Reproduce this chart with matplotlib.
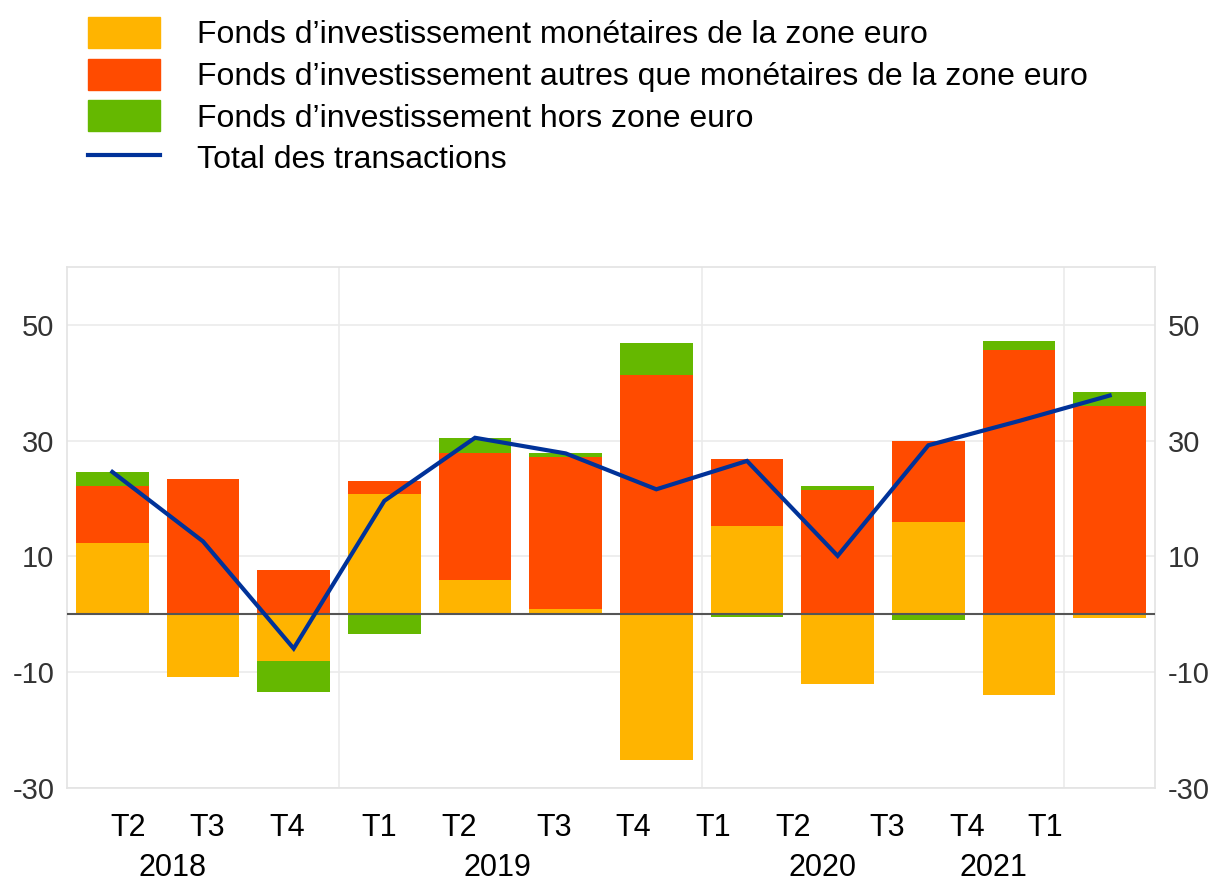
import numpy as np
import matplotlib
matplotlib.use("Agg")
import matplotlib.pyplot as plt
from matplotlib.patches import Patch
from matplotlib.lines import Line2D

plt.rcParams['font.family'] = ['Liberation Sans', 'DejaVu Sans']

# quarterly values, Q2 2018 .. Q1 2021
quarters = ['T2', 'T3', 'T4', 'T1', 'T2', 'T3', 'T4', 'T1', 'T2', 'T3', 'T4', 'T1']
years = ['2018', '2019', '2020', '2021']
monetaires = [12.4, -10.8, -8.0, 20.8, 6.0, 0.9, -25.2, 15.3, -12.1, 16.0, -14.0, -0.6]
autres = [9.7, 23.4, 7.7, 2.2, 21.9, 26.3, 41.4, 11.6, 21.4, 13.9, 45.7, 36.0]
hors_zone = [2.5, 0.0, -5.5, -3.4, 2.5, 0.6, 5.5, -0.5, 0.8, -1.0, 1.6, 2.4]
total = [24.6, 12.6, -5.9, 19.6, 30.5, 27.8, 21.6, 26.5, 10.1, 29.2, 33.4, 37.8]

labels = ["Fonds d\u2019investissement monétaires de la zone euro",
          "Fonds d\u2019investissement autres que monétaires de la zone euro",
          "Fonds d\u2019investissement hors zone euro",
          "Total des transactions"]
colors = ['#FFB400', '#FF4B00', '#65B800']
line_color = '#003299'

# where the labels were put on the original picture (pixels)
quarter_px = [128, 207, 287, 379, 459, 554, 633, 713, 793, 887, 967, 1045]
year_px = [172, 497, 823, 993]

W, H = 1211, 881
fig = plt.figure(figsize=(W / 100, H / 100), dpi=100)
ax = fig.add_axes([67 / W, 1 - 788 / H, (1155 - 67) / W, (788 - 267) / H])

x = np.arange(len(quarters))
pos_bottom = np.zeros(len(x))
neg_bottom = np.zeros(len(x))
for series, c in zip([monetaires, autres, hors_zone], colors):
    v = np.array(series)
    bottom = np.where(v >= 0, pos_bottom, neg_bottom)
    ax.bar(x, v, bottom=bottom, width=0.8, color=c, zorder=2)
    pos_bottom += np.where(v >= 0, v, 0)
    neg_bottom += np.where(v < 0, v, 0)

ax.plot(x, total, color=line_color, lw=3, zorder=4, solid_joinstyle='miter')
ax.axhline(0, color='#555555', lw=1.5, zorder=3)

ax.set_xlim(-0.5, 11.5)
ax.set_ylim(-30, 60)
yt = [-30, -10, 10, 30, 50]
ax.set_yticks(yt)
ax.set_yticklabels([str(t) for t in yt])
for t in yt:
    ax.axhline(t, color='#ebebeb', lw=1.2, zorder=0)
for xv in [2.5, 6.5, 10.5]:
    ax.axvline(xv, color='#ebebeb', lw=1.2, zorder=0)
ax.set_xticks([])
ax.tick_params(axis='y', length=0, labelsize=21, colors='#333333', pad=9,
               right=True, labelright=True)
for s in ax.spines.values():
    s.set_color('#e3e3e3')
    s.set_linewidth(1.2)

for q, px in zip(quarters, quarter_px):
    fig.text(px / W, 1 - 828 / H, q, ha='center', va='center', fontsize=22)
for yr, px in zip(years, year_px):
    fig.text(px / W, 1 - 868 / H, yr, ha='center', va='center', fontsize=22)

handles = [Patch(color=c) for c in colors] + [Line2D([0], [0], color=line_color, lw=3)]
fig.legend(handles, labels, loc='upper left', bbox_to_anchor=(88 / W, 1 - 17 / H),
           frameon=False, fontsize=23, handlelength=2.25, handleheight=1.12,
           handletextpad=1.15, labelspacing=0.26, borderaxespad=0, borderpad=0)

fig.savefig('out.png', dpi=100)
